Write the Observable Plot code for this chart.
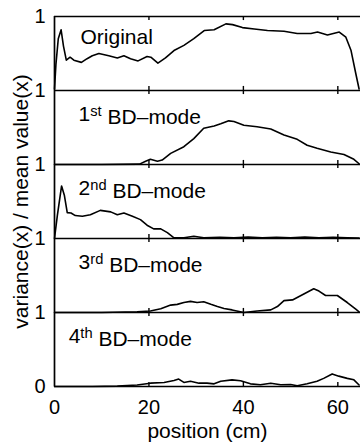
<!DOCTYPE html>
<html><head><meta charset="utf-8">
<script src="https://cdn.jsdelivr.net/npm/d3@7"></script>
<script src="https://cdn.jsdelivr.net/npm/@observablehq/plot@0.6"></script>
<style>
html,body{margin:0;padding:0;background:#fff;}
#chart svg{display:block;}
</style></head><body><div id="chart"></div>
<script>
// ---- data (position in cm, variance/mean ratio per panel, 0..1) ----
const origX = [0, 0.3, 0.8, 1.4, 1.9, 2.5, 3.3, 4.1, 5.7, 6.9, 8.0, 9.4, 11.5, 13.3, 14.7, 16.1, 17.7, 19.6, 20.4, 21.9, 23.5, 25.3, 27.4, 29.5, 31.7, 33.8, 36.3, 37.7, 39.8, 42.3, 45.1, 48.6, 51.4, 54.3, 55.7, 57.8, 60.3, 61.7, 62.8, 63.8, 64.5];
const origY = [0.02, 0.35, 0.70, 0.82, 0.60, 0.41, 0.45, 0.41, 0.38, 0.43, 0.47, 0.50, 0.47, 0.44, 0.47, 0.43, 0.40, 0.46, 0.45, 0.37, 0.44, 0.54, 0.61, 0.70, 0.81, 0.82, 0.90, 0.89, 0.85, 0.83, 0.81, 0.80, 0.77, 0.77, 0.79, 0.75, 0.79, 0.72, 0.54, 0.23, 0.02];

const bd1X = [0, 10, 18, 19.3, 20.3, 21.8, 22.8, 24.6, 27.4, 29.5, 31.6, 33.8, 35.2, 36.9, 38.0, 40.1, 42.9, 45.8, 48.6, 51.4, 53.5, 55.6, 58.5, 61.3, 63.4, 64.5];
const bd1Y = [0.0, 0.0, 0.005, 0.045, 0.07, 0.045, 0.06, 0.15, 0.24, 0.35, 0.49, 0.52, 0.55, 0.59, 0.58, 0.53, 0.51, 0.48, 0.40, 0.34, 0.26, 0.22, 0.17, 0.135, 0.07, 0.01];

const bd2X = [0, 0.6, 1.5, 2.1, 2.7, 3.5, 4.4, 5.9, 7.6, 9.7, 11.9, 13.3, 14.7, 16.5, 18.2, 19.6, 21.0, 22.5, 23.9, 25.3, 27.4, 29.5, 31.6, 35.0, 38.0, 41.0, 44.0, 47.0, 50.0, 53.0, 56.0, 59.0, 62.0, 64.5];
const bd2Y = [0.0, 0.31, 0.71, 0.58, 0.35, 0.345, 0.31, 0.30, 0.32, 0.38, 0.36, 0.32, 0.345, 0.30, 0.255, 0.18, 0.13, 0.13, 0.08, 0.01, 0.01, 0.03, 0.01, 0.015, 0.01, 0.02, 0.01, 0.015, 0.01, 0.02, 0.01, 0.015, 0.01, 0.005];

const bd3X = [0, 10, 17.5, 20.3, 22.5, 24.6, 26.0, 27.4, 28.8, 30.2, 31.6, 33.1, 34.5, 35.9, 37.6, 40.1, 42.9, 45.8, 47.2, 48.6, 50.4, 52.8, 54.9, 56.0, 57.4, 59.9, 62.0, 63.8, 64.5];
const bd3Y = [0.0, 0.0, 0.01, 0.02, 0.05, 0.10, 0.11, 0.135, 0.15, 0.135, 0.145, 0.11, 0.08, 0.055, 0.035, 0.0, 0.02, 0.035, 0.08, 0.16, 0.17, 0.25, 0.32, 0.29, 0.23, 0.23, 0.135, 0.045, 0.01];

const bd4X = [0, 8, 13.3, 17.5, 20.3, 23.2, 25.3, 26.3, 27.4, 28.8, 30.6, 32.3, 33.8, 35.2, 37.6, 39.4, 41.5, 43.6, 45.8, 47.9, 50.0, 51.4, 53.5, 55.6, 57.0, 58.8, 60.2, 62.0, 63.4, 64.5];
const bd4Y = [0.0, 0.0, 0.005, 0.02, 0.045, 0.055, 0.08, 0.10, 0.055, 0.07, 0.045, 0.045, 0.036, 0.07, 0.09, 0.077, 0.036, 0.023, 0.045, 0.023, 0.027, 0.01, 0.036, 0.07, 0.11, 0.17, 0.14, 0.11, 0.09, 0.02];

const panelLabels = ["Original", "1st BD–mode", "2nd BD–mode", "3rd BD–mode", "4th BD–mode"];
const yTicks = [0, 1, 2, 3, 4, 5];
const yTickLabels = ["0", "1", "1", "1", "1", "1"];
const xTicks = [0, 20, 40, 60];
const xInnerTicks = [20, 40, 60];
const xLabel = "position (cm)";
const yLabel = "variance(x) / mean value(x)";

// ---- build tables ----
const series = [[origX, origY], [bd1X, bd1Y], [bd2X, bd2Y], [bd3X, bd3Y], [bd4X, bd4Y]];
const lineData = series.flatMap(([xs, ys], i) => xs.map((x, j) => ({panel: i, x, y: (4 - i) + ys[j]})));
const labelData = panelLabels.map((t, i) => ({t, i, base: 4 - i}));
const tickData = yTicks.flatMap(b => xInnerTicks.map(x => ({x, b})));

const FONT = "'Liberation Sans', Arial, Helvetica, sans-serif";
const FS = 21;

const chart = Plot.plot({
  width: 360, height: 445,
  marginLeft: 54, marginRight: 0, marginTop: 16, marginBottom: 59,
  style: {fontFamily: FONT, fontSize: FS + "px", background: "#fff", color: "#000", overflow: "visible"},
  x: {domain: [0, 64.8]},
  y: {domain: [0, 5]},
  marks: [
    Plot.ruleY(yTicks, {stroke: "#000", strokeWidth: 1.7}),
    Plot.ruleX([0], {y1: 0, y2: 5, stroke: "#000", strokeWidth: 1.7}),
    Plot.ruleX(tickData, {x: "x", y1: d => d.b - 0.055, y2: d => d.b + 0.055, stroke: "#000", strokeWidth: 1.4, clip: true}),
    Plot.line(lineData, {x: "x", y: "y", z: "panel", stroke: "#000", strokeWidth: 1.6, curve: "linear"}),
    Plot.text(labelData, {x: d => d.i === 4 ? 3.0 : (d.i === 0 ? 5.5 : 5.1), y: d => d.base + (d.i === 0 ? 0.635 : 0.585), text: "t", textAnchor: "start", lineAnchor: "bottom", fontSize: FS, fill: "#000"}),
    Plot.axisY({ticks: yTicks, tickFormat: (d, i) => yTickLabels[i], tickSize: 0, tickPadding: 9, fontSize: 20, label: null}),
    Plot.axisX({ticks: xTicks, tickSize: 0, tickPadding: 13, fontSize: 20, label: null}),
    Plot.text([xLabel], {frameAnchor: "bottom", dy: 51, lineAnchor: "bottom", textAnchor: "middle", fontSize: FS, fill: "#000"}),
    Plot.text([yLabel], {frameAnchor: "left", rotate: -90, dx: -27, lineAnchor: "bottom", textAnchor: "middle", fontSize: FS, fill: "#000"})
  ]
});

// superscript ordinals (1st, 2nd, ...)
d3.select(chart).selectAll("text").each(function() {
  const el = d3.select(this);
  if (el.selectAll("tspan").size() > 0) return;
  const m = /^(\d)(st|nd|rd|th) (.*)$/.exec(this.textContent);
  if (!m) return;
  el.text(null);
  el.append("tspan").text(m[1]);
  el.append("tspan").attr("dy", "-0.38em").attr("font-size", "0.7em").text(m[2]);
  el.append("tspan").attr("dy", "0.38em").text(" " + m[3]);
});

document.getElementById("chart").append(chart);
</script>
</body></html>
